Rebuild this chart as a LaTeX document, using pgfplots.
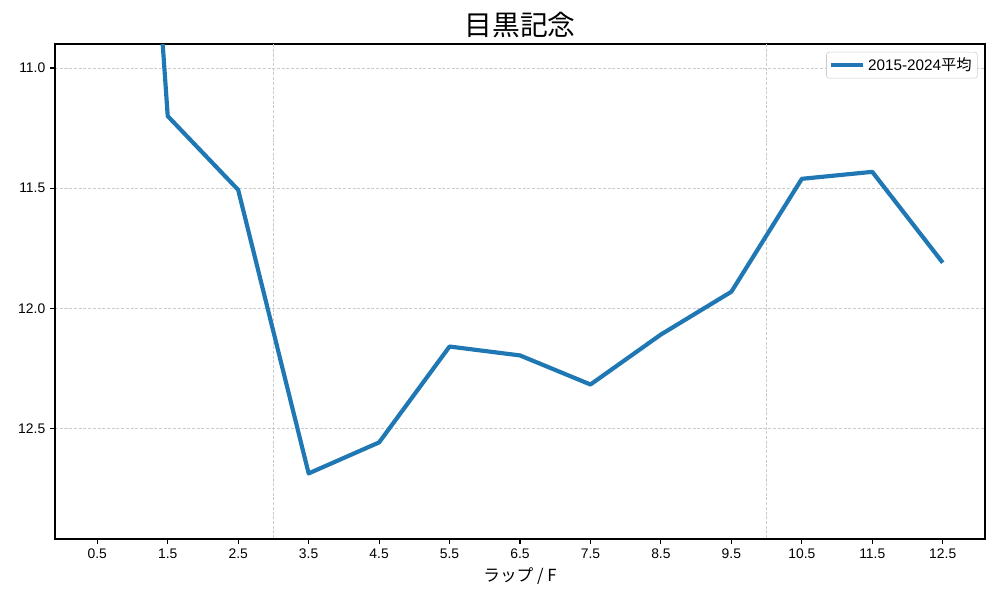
\documentclass[border=0pt]{standalone}
\usepackage{pgfplots}
\pgfplotsset{compat=1.18}
\usepackage{fontspec}
\setmainfont{Liberation Sans}
\newfontfamily\jp{Noto Sans CJK JP}
\definecolor{mplblue}{HTML}{1F77B4}
\begin{document}
\begin{tikzpicture}
\path[use as bounding box] (-39.6bp,-43.92bp) rectangle (680.4bp,388.08bp);
\begin{axis}[
  at={(0,0)}, anchor=south west,
  scale only axis,
  width=669.6bp, height=356.4bp,
  xmin=-0.1, xmax=13.1,
  ymin=10.9, ymax=12.96,
  y dir=reverse,
  xtick={0.5,1.5,...,12.5},
  ytick={11.0,11.5,12.0,12.5},
  yticklabel style={/pgf/number format/fixed, /pgf/number format/fixed zerofill, /pgf/number format/precision=1},
  xticklabel style={/pgf/number format/fixed, /pgf/number format/fixed zerofill, /pgf/number format/precision=1},
  /pgf/number format/assume math mode=true,
  tick label style={font=\fontsize{10bp}{12bp}\selectfont},
  tick align=outside,
  major tick length=3.5bp,
  tick style={black, line width=0.8bp},
  xtick pos=bottom, ytick pos=left,
  axis line style={line width=0.8bp},
  ymajorgrids=true,
  grid style={dash pattern=on 2.2bp off 1.2bp, line width=0.5bp, color=black!20},
  extra x ticks={3,10},
  extra x tick labels={},
  extra x tick style={xmajorgrids=true, major tick length=0pt},
  title={\jp 目黒記念},
  title style={font=\fontsize{20bp}{24bp}\selectfont, at={(rel axis cs:0.5,1)}, anchor=base, yshift=0bp, inner sep=0pt},
  xlabel={\jp ラップ / F},
  xlabel style={font=\fontsize{12bp}{14bp}\selectfont, at={(rel axis cs:0.5,0)}, anchor=north, yshift=-20.5bp, inner sep=0pt},
  legend style={at={(rel axis cs:0.992,0.984)}, anchor=north east, draw=black!20, rounded corners=2bp, font=\fontsize{11bp}{13bp}\selectfont, inner xsep=2bp, inner ysep=2bp, cells={anchor=west}},
  legend image code/.code={\draw[#1, line width=3bp] (0bp,0bp) -- (23bp,0bp);},
  clip=true,
]
\addplot[mplblue, line width=3bp, line join=round] coordinates {
(0.5,7.0) (1.5,11.20) (2.5,11.507) (3.5,12.687) (4.5,12.558) (5.5,12.159)
(6.5,12.196) (7.5,12.317) (8.5,12.109) (9.5,11.931) (10.5,11.461)
(11.5,11.432) (12.5,11.81)
};
\addlegendentry{2015-2024{\jp 平均}}
\end{axis}
\end{tikzpicture}
\end{document}
